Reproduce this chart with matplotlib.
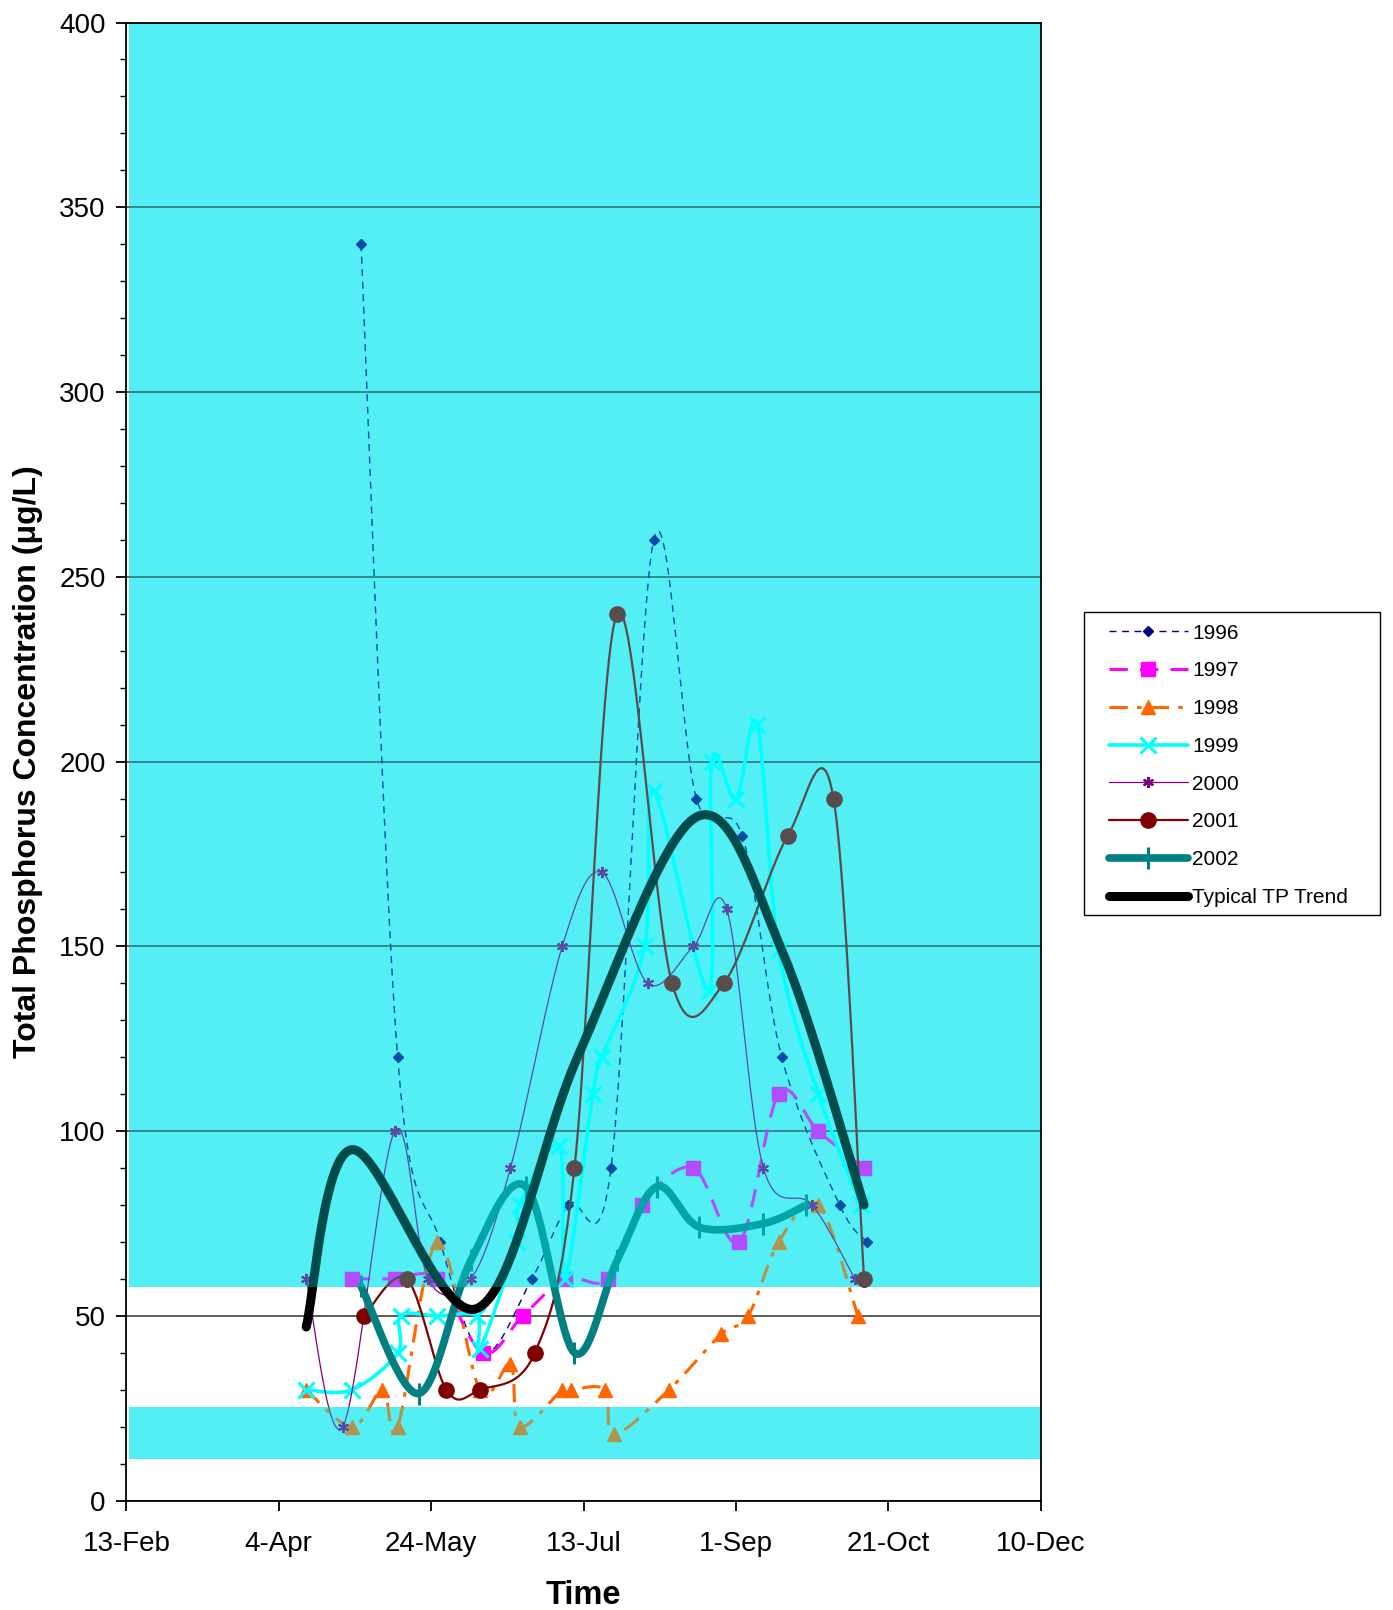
import numpy as np
import matplotlib
matplotlib.use("Agg")
import matplotlib.pyplot as plt
from matplotlib.lines import Line2D
from matplotlib.patches import Rectangle

plt.rcParams['font.family'] = ['Liberation Sans', 'DejaVu Sans']

# day of year (13-Feb = 44, 10-Dec = 344) and TP in ug/L
days_1996 = [121, 133, 147, 161, 177, 189, 203, 217, 231, 246, 259, 278, 287]
tp_1996 = [340, 120, 70, 40, 60, 80, 90, 260, 190, 180, 120, 80, 70]

days_1997 = [118, 132, 146, 161, 174, 188, 202, 213, 230, 245, 258, 271, 286]
tp_1997 = [60, 60, 60, 40, 50, 60, 60, 80, 90, 70, 110, 100, 90]

days_1998 = [103, 118, 128, 133, 146, 160, 170, 173, 187, 190, 201, 204, 222, 239, 248, 258, 271, 284]
tp_1998 = [30, 20, 30, 20, 70, 30, 37, 20, 30, 30, 30, 18, 30, 45, 50, 70, 80, 50]

days_1999 = [103, 118, 133, 134, 146, 159, 160, 172, 173, 186, 188, 197, 200, 214, 217, 235, 236, 244, 251, 258, 271, 285]
tp_1999 = [30, 30, 40, 50, 50, 50, 41, 70, 80, 96, 60, 110, 120, 150, 192, 138, 200, 190, 210, 149, 110, 80]

days_2000 = [103, 115, 132, 143, 157, 170, 187, 200, 215, 230, 241, 253, 269, 283]
tp_2000 = [60, 20, 100, 60, 60, 90, 150, 170, 140, 150, 160, 90, 80, 60]

days_2001 = [122, 136, 149, 160, 178, 191, 205, 223, 240, 261, 276, 286]
tp_2001 = [50, 60, 30, 30, 40, 90, 240, 140, 140, 180, 190, 60]

days_2002 = [121, 140, 157, 175, 191, 205, 218, 232, 253, 267]
tp_2002 = [58, 29, 65, 85, 40, 65, 85, 74, 75, 80]

days_trend = [103, 118, 159, 192, 231, 259, 286]
tp_trend = [47, 95, 52, 120, 185, 149, 80]

tick_days = [44, 94, 144, 194, 244, 294, 344]
tick_labels = ['13-Feb', '4-Apr', '24-May', '13-Jul', '1-Sep', '21-Oct', '10-Dec']

# shaded (stippled) bands
bands = [(11.4, 25.3), (57.8, 400)]


def smooth(xs, ys, n=24):
    # Excel style smoothed line: cubic bezier through the points
    p = np.column_stack([xs, ys]).astype(float)
    out = [p[0]]
    t = np.linspace(0, 1, n)[1:, None]
    for i in range(len(p) - 1):
        p0 = p[i - 1] if i > 0 else p[i]
        p1, p2 = p[i], p[i + 1]
        p3 = p[i + 2] if i + 2 < len(p) else p2
        c1 = p1 + (p2 - p0) / 6
        c2 = p2 - (p3 - p1) / 6
        seg = ((1 - t) ** 3) * p1 + 3 * ((1 - t) ** 2) * t * c1 + 3 * (1 - t) * t ** 2 * c2 + t ** 3 * p2
        out.extend(seg)
    out = np.array(out)
    return out[:, 0], out[:, 1]


series = [
    ('1996', days_1996, tp_1996, dict(color='#000080', lw=1.0, ls=(0, (5, 4)), marker='D', ms=5)),
    ('1997', days_1997, tp_1997, dict(color='#FF00FF', lw=2.2, ls=(0, (6, 4)), marker='s', ms=10)),
    ('1998', days_1998, tp_1998, dict(color='#FF6600', lw=2.2, ls=(0, (6, 3, 1.5, 3)), marker='^', ms=10)),
    ('1999', days_1999, tp_1999, dict(color='#00FFFF', lw=2.6, ls='-', marker='x', ms=11, mew=2.2)),
    ('2000', days_2000, tp_2000, dict(color='#800080', lw=0.9, ls='-', marker=(6, 2, 0), ms=8, mew=1.5)),
    ('2001', days_2001, tp_2001, dict(color='#800000', lw=1.6, ls='-', marker='o', ms=11)),
    ('2002', days_2002, tp_2002, dict(color='#008080', lw=5.5, ls='-', marker='|', ms=16, mew=2.2)),
]

fig = plt.figure(figsize=(13.93, 16.10), dpi=100)
ax = fig.add_axes([0.0907, 0.0679, 0.6565, 0.9181])
ax.set_facecolor('white')

handles = []
for i, (name, d, v, st) in enumerate(series):
    sx, sy = smooth(d, v)
    ax.plot(sx, sy, color=st['color'], lw=st['lw'], ls=st['ls'], zorder=3 + i * 0.1,
            solid_capstyle='round', dash_capstyle='butt')
    ax.plot(d, v, ls='none', marker=st['marker'], ms=st['ms'], color=st['color'],
            mfc=st['color'], mec=st['color'], mew=st.get('mew', 1), zorder=3.05 + i * 0.1)
    handles.append(Line2D([], [], color=st['color'], lw=st['lw'], ls=st['ls'], marker=st['marker'],
                          ms=st['ms'], mfc=st['color'], mec=st['color'], mew=st.get('mew', 1),
                          solid_capstyle='round', label=name))

sx, sy = smooth(days_trend, tp_trend, n=40)
ax.plot(sx, sy, color='black', lw=6.5, solid_capstyle='round', zorder=4.5)
handles.append(Line2D([], [], color='black', lw=6.5, solid_capstyle='round', label='Typical TP Trend'))

# stippled bands: light base under the data, thin cyan veil over it
for lo, hi in bands:
    ax.axhspan(lo, hi, xmin=0.003, xmax=1, color='#79E7F1', lw=0, zorder=0.2)
    ax.axhspan(lo, hi, xmin=0.003, xmax=1, color='#00FFFF', alpha=0.3, lw=0, zorder=6)

ax.set_xlim(44, 344)
ax.set_ylim(0, 400)
ax.set_xticks(tick_days)
ax.set_xticklabels(tick_labels)
ax.set_yticks(np.arange(0, 401, 50))
ax.set_yticks(np.arange(0, 401, 10), minor=True)
ax.yaxis.grid(True, which='major', color='#404040', lw=1.2)
ax.set_axisbelow(True)
ax.tick_params(axis='both', which='major', labelsize=20, length=7, width=1.3, direction='out', pad=8)
ax.tick_params(axis='x', which='major', pad=14.5)
ax.tick_params(axis='y', which='minor', length=4, width=1.0, direction='out')
for sp in ax.spines.values():
    sp.set_linewidth(1.3)
    sp.set_color('black')
    sp.set_zorder(10)

ax.set_xlabel('Time', fontsize=23.5, fontweight='bold', labelpad=17)
ax.set_ylabel('Total Phosphorus Concentration (μg/L)', fontsize=23, fontweight='bold', labelpad=11.5)

# legend frame drawn separately so the handles can sit further in
fig.patches.append(Rectangle((0.7782, 0.4317), 0.2125, 0.1882, transform=fig.transFigure,
                             fill=False, edgecolor='black', lw=1.0))
leg = fig.legend(handles=handles, loc='upper left', bbox_to_anchor=(0.7958, 0.6127),
                 borderaxespad=0, fontsize=15, frameon=False, handlelength=3.8,
                 labelspacing=0.9, borderpad=0.0, handletextpad=0.2)

fig.savefig('out.png', dpi=100)
